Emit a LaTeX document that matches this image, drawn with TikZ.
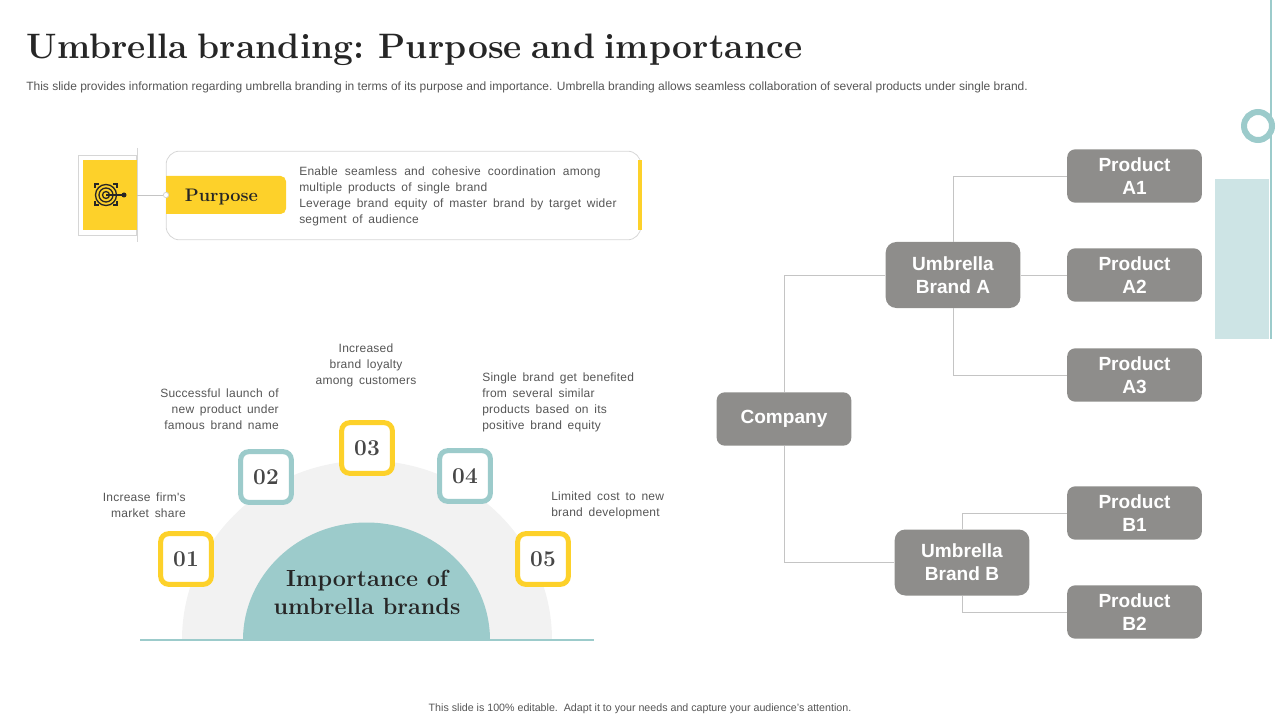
\documentclass[tikz,border=0pt]{standalone}
\usepackage{fontspec}
\setsansfont{Liberation Sans}
\newfontfamily\notefont[LetterSpace=2,WordSpace=1.6]{Liberation Sans}
\newfontfamily\headfont[LetterSpace=0.5,WordSpace=0.7]{Latin Modern Roman}
\newfontfamily\numfont{Latin Modern Roman}
\usepackage{xcolor}
\usetikzlibrary{positioning, arrows.meta}
\definecolor{tabyellow}{HTML}{FDD12A}
\definecolor{ringteal}{HTML}{9CCBCB}
\definecolor{paleteal}{HTML}{CDE4E5}
\definecolor{boxgray}{HTML}{8E8D8B}
\definecolor{softgray}{HTML}{F2F2F2}
\definecolor{linegray}{HTML}{C4C4C4}
\definecolor{bodygray}{HTML}{555555}
\definecolor{inkdark}{HTML}{262626}

\begin{document}
\begin{tikzpicture}[
      x=0.75pt, y=-0.75pt,
      font=\sffamily\fontsize{9}{12}\selectfont,
      product/.style={draw=none, fill=boxgray, rounded corners=6pt, text=white, align=center, minimum width=101pt, minimum height=40pt, inner sep=0pt, font=\sffamily\bfseries\fontsize{14.3}{17.3}\selectfont},
      umbrella/.style={product, minimum height=49.5pt, rounded corners=8pt},
      numbox/.style={draw=#1, line width=3.75pt, fill=white, rounded corners=6pt, minimum size=38pt, inner sep=0pt, text=inkdark!85, font=\numfont\bfseries\fontsize{17}{17}\selectfont},
      note/.style={text=bodygray, inner sep=0pt, font=\notefont\fontsize{9}{12}\selectfont},
      tree/.style={linegray, line width=0.6pt}
    ]
    \useasboundingbox (0,0) rectangle (1280,720);
    % heading
    \node[anchor=west, inner sep=0pt, text=inkdark, font=\headfont\bfseries\fontsize{26.5}{30}\selectfont] (title) at (26,50) {Umbrella branding: Purpose and importance};
    \node[note, anchor=west, font=\sffamily\fontsize{9}{12}\selectfont] (intro) at (26,87) {This slide provides information regarding umbrella branding in terms of its purpose and importance. Umbrella branding allows seamless collaboration of several products under single brand.};
    \node[note, font=\sffamily\fontsize{8}{10}\selectfont] (foot) at (640,709) {This slide is 100\% editable.\ \ Adapt it to your needs and capture your audience's attention.};

    % corner decoration
    \draw[ringteal, line width=0.8pt] (1271,0) -- (1271,339);
    \fill[paleteal] (1215,179) rectangle (1269,339);
    \node[draw=ringteal, line width=4.5pt, circle, fill=white, minimum size=21pt, inner sep=0pt] (ring) at (1258,126) {};

    % purpose panel
    \node[draw=linegray!70, line width=0.6pt, minimum width=44pt, minimum height=60pt, inner sep=0pt] (frame) at (107.5,195) {};
    \node[fill=tabyellow, minimum width=40.5pt, minimum height=52.5pt, inner sep=0pt] (icon) at (110,195) {};
    \draw[linegray!70, line width=0.6pt] (137,148) -- (137,242);
    \node[draw=linegray!70, line width=0.6pt, rounded corners=10pt, minimum width=356pt, minimum height=66.5pt, inner sep=0pt] (panel) at (403.5,195.5) {};
    \fill[tabyellow] (638,160) rectangle (641.5,230);
    \fill[tabyellow, rounded corners=4pt] (166,176) -- (286,176) -- (286,214) -- (166,214) [sharp corners] -- cycle;
    \fill[tabyellow] (166,176) rectangle (180,214);
    \node[inner sep=0pt, text=inkdark, font=\numfont\bfseries\fontsize{13.6}{16}\selectfont] (purpose) at (221.5,197) {Purpose};
    \node[circle, draw=linegray!70, fill=white, line width=0.6pt, minimum size=4pt, inner sep=0pt] (dot) at (166,195) {};
    \draw[linegray, line width=0.6pt] (icon.east) -- (dot.west);
    \node[note, anchor=north west, align=left] (purposetext) at (299,167) {\makebox[226pt][s]{Enable seamless and cohesive coordination among}\\multiple products of single brand\\\makebox[238pt][s]{Leverage brand equity of master brand by target wider}\\segment of audience};

    % target icon
    \foreach \r in {3.5,7,10.5}
      \draw[inkdark, line width=1pt] (106,195) circle[radius=\r];
    \draw[inkdark, line width=1.1pt] (106,195) -- (126,195);
    \fill[inkdark] (124,195) circle[radius=2.5];
    \foreach \xa/\xb/\ya/\yb in {95/99/188/184, 117/113/188/184, 95/99/201/205, 117/113/201/205}
      \draw[inkdark, line width=0.9pt] (\xa,\ya) -- (\xa,\yb) -- (\xb,\yb);

    % importance dome
    \fill[softgray] (182,640) arc[start angle=180, end angle=360, x radius=185, y radius=179.5] -- cycle;
    \fill[ringteal] (243,640) arc[start angle=180, end angle=360, x radius=123.5, y radius=117.5] -- cycle;
    \draw[ringteal, line width=1pt] (140,640) -- (594,640);
    \node[inner sep=0pt, align=center, text=inkdark, font=\numfont\bfseries\fontsize{17.5}{21}\selectfont] (dome) at (367,592.5) {Importance of\\umbrella brands};
    \foreach \n/\c/\x/\y in {01/tabyellow/186/559, 02/ringteal/266/477, 03/tabyellow/367/448, 04/ringteal/465/476, 05/tabyellow/543/559}
      \node[numbox=\c] (num\n) at (\x,\y) {\n};

    % notes round the dome
    \node[note, anchor=east, align=right] (note01) at (186,505.5) {Increase firm's\\market share};
    \node[note, anchor=east, align=right] (note02) at (279,409.5) {Successful launch of\\new product under\\famous brand name};
    \node[note, align=center] (note03) at (366,365.5) {Increased\\brand loyalty\\among customers};
    \node[note, anchor=west, align=left] (note04) at (482,402.5) {Single brand get benefited\\from several similar\\products based on its\\positive brand equity};
    \node[note, anchor=west, align=left] (note05) at (551,505.5) {Limited cost to new\\brand development};

    % brand tree
    \node[product] (company) at (784,419) {Company};
    \node[umbrella] (brandA) at (953,275) {Umbrella\\Brand A};
    \node[umbrella] (brandB) at (962,562.5) {Umbrella\\Brand B};
    \foreach \p/\a/\b/\y in {prodA1/A/1/176, prodA2/A/2/275, prodA3/A/3/375, prodB1/B/1/513, prodB2/B/2/612}
      \node[product] (\p) at (1134.5,\y) {Product\\\a\b};
    \draw[tree] (company.north) |- (brandA.west);
    \draw[tree] (company.south) |- (brandB.west);
    \draw[tree] (brandA.north) |- (prodA1.west);
    \draw[tree] (brandA.east) -- (prodA2.west);
    \draw[tree] (brandA.south) |- (prodA3.west);
    \draw[tree] (brandB.north) |- (prodB1.west);
    \draw[tree] (brandB.south) |- (prodB2.west);
  \end{tikzpicture}
\end{document}
